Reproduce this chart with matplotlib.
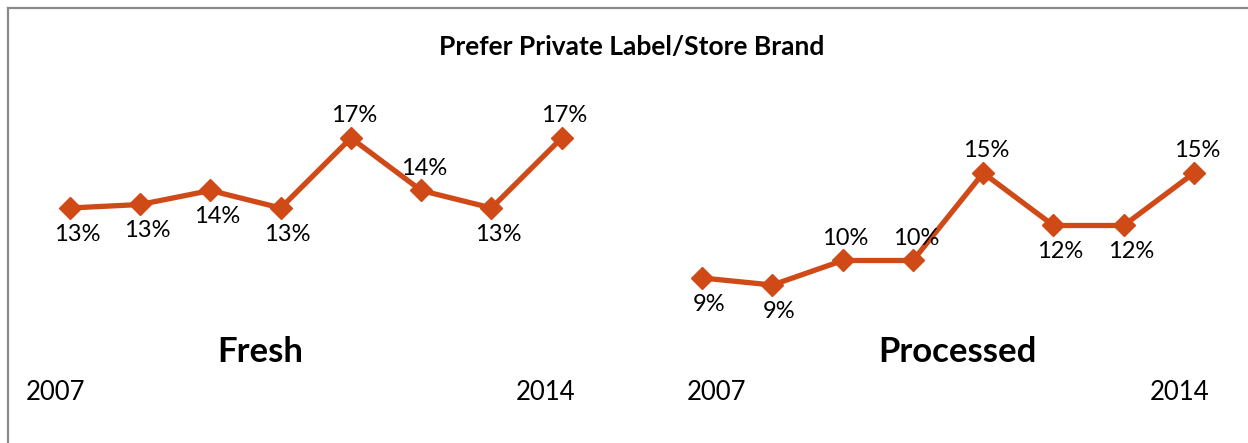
import numpy as np
import matplotlib.pyplot as plt
from matplotlib.lines import Line2D

# ---------------------------------------
# Prefer private label / store brand share
# ---------------------------------------
years = ["2007", "2014"]
fresh = [13.0, 13.2, 14.0, 13.0, 17.0, 14.0, 13.0, 17.0]
processed = [9.0, 8.6, 10.0, 10.0, 15.0, 12.0, 12.0, 15.0]

# label placement for each point: 1 = above, -1 = below
fresh_pos = [-1, -1, -1, -1, 1, 1, -1, 1]
processed_pos = [-1, -1, 1, 1, 1, -1, -1, 1]

LINE = "#D04A18"
FONT = "Lato"

plt.rcParams['font.family'] = [FONT, 'DejaVu Sans']

fig = plt.figure(figsize=(12.48, 4.43), dpi=100)
ax = fig.add_axes([0, 0, 1, 1])
ax.axis('off')

# both panels share one axis, with an empty slot between them
x_fresh = np.arange(len(fresh))
x_proc = np.arange(len(processed)) + len(fresh) + 1

for xs, vals, pos in [(x_fresh, fresh, fresh_pos),
                      (x_proc, processed, processed_pos)]:
    ax.plot(xs, vals, color=LINE, lw=3.8, marker='D', markersize=11,
            solid_joinstyle='miter')
    for x, v, p in zip(xs, vals, pos):
        off = (5, -19) if p < 0 else (2, 16)
        ax.annotate(f"{v:.0f}%", (x, v), xytext=off,
                    textcoords='offset points', ha='center', va='center',
                    fontsize=17, color='black')

ax.set_xlim(-0.996, 16.769)
ax.set_ylim(-0.429, 24.886)

fig.text(632 / 1248, 1 - 47 / 443, "Prefer Private Label/Store Brand",
         ha='center', va='center', fontsize=19, fontweight='bold')

fig.text(260 / 1248, 1 - 352 / 443, "Fresh", ha='center', va='center',
         fontsize=25, fontweight='bold')
fig.text(957 / 1248, 1 - 352 / 443, "Processed", ha='center', va='center',
         fontsize=25, fontweight='bold')

for xp, lab in zip([55, 546, 716, 1180], years * 2):
    fig.text(xp / 1248, 1 - 392 / 443, lab, ha='center', va='center',
             fontsize=18.5)

# frame on the top and left edges
fig.add_artist(Line2D([8 / 1248, 8 / 1248], [0, 1 - 8 / 443],
                      transform=fig.transFigure, color='#8a8a8a', lw=1.6))
fig.add_artist(Line2D([8 / 1248, 1], [1 - 8 / 443, 1 - 8 / 443],
                      transform=fig.transFigure, color='#8a8a8a', lw=1.6))

fig.savefig("out.png", dpi=100)
